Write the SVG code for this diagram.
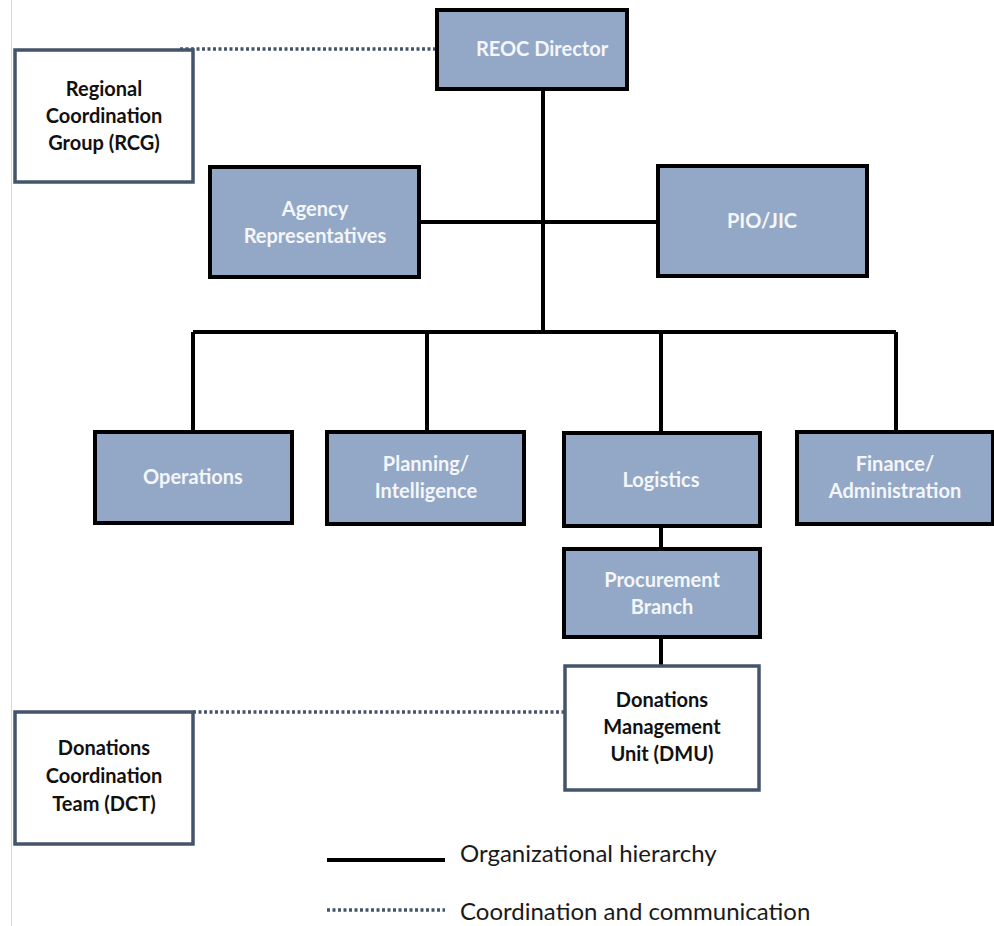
<svg xmlns="http://www.w3.org/2000/svg" width="994" height="926" viewBox="0 0 994 926">
<style>
.b{fill:#93a8c6;stroke:#000;stroke-width:4}
.w{fill:#fff;stroke:#44546a;stroke-width:3.5}
.t{font-family:Lato,"Open Sans",sans-serif;font-weight:bold;font-size:20px;fill:#f4f6fa;text-anchor:middle}
.k{font-family:Lato,"Open Sans",sans-serif;font-weight:bold;font-size:20px;fill:#111;text-anchor:middle}
.s{stroke:#000;stroke-width:4;fill:none}
.d{stroke:#44546a;stroke-width:3.5;stroke-dasharray:3 2.5;fill:none}
.l{font-family:Lato,"Open Sans",sans-serif;font-size:24px;fill:#1a1a1a}
</style>
<rect width="994" height="926" fill="#fff"/>
<line x1="11.5" y1="0" x2="11.5" y2="926" stroke="#d9d9d9" stroke-width="1"/>
<g id="connectors">
<path class="s" d="M543 89V332M420 222H658M193 332H896M193 332V432M427 332V432M661 332V433M896 332V432M661 526V549M661 637V665"/>
<path class="d" d="M180 49H437M193 712H564"/>
</g>
<g id="reoc"><rect class="b" x="437" y="10" width="190" height="79"/><text class="t" x="542" y="56">REOC Director</text></g>
<g id="rcg"><rect class="w" x="15" y="50" width="178" height="132"/><text class="k" x="104" y="96">Regional</text><text class="k" x="104" y="123">Coordination</text><text class="k" x="104" y="150">Group (RCG)</text></g>
<g id="agency"><rect class="b" x="210" y="167" width="209" height="110"/><text class="t" x="315" y="216">Agency</text><text class="t" x="315" y="243">Representatives</text></g>
<g id="pio"><rect class="b" x="658" y="166" width="209" height="110"/><text class="t" x="762" y="228">PIO/JIC</text></g>
<g id="ops"><rect class="b" x="95" y="432" width="197" height="91"/><text class="t" x="193" y="484">Operations</text></g>
<g id="plan"><rect class="b" x="327" y="432" width="197" height="92"/><text class="t" x="426" y="471">Planning/</text><text class="t" x="426" y="498">Intelligence</text></g>
<g id="log"><rect class="b" x="564" y="433" width="196" height="93"/><text class="t" x="661" y="487">Logistics</text></g>
<g id="fin"><rect class="b" x="797" y="432" width="196" height="92"/><text class="t" x="895" y="471">Finance/</text><text class="t" x="895" y="498">Administration</text></g>
<g id="proc"><rect class="b" x="564" y="549" width="196" height="88"/><text class="t" x="662" y="587">Procurement</text><text class="t" x="662" y="614">Branch</text></g>
<g id="dmu"><rect class="w" x="565" y="666" width="194" height="124"/><text class="k" x="662" y="707">Donations</text><text class="k" x="662" y="734">Management</text><text class="k" x="662" y="761">Unit (DMU)</text></g>
<g id="dct"><rect class="w" x="15" y="712" width="178" height="132"/><text class="k" x="104" y="755">Donations</text><text class="k" x="104" y="783">Coordination</text><text class="k" x="104" y="811">Team (DCT)</text></g>
<g id="legend">
<line class="s" x1="327" y1="860" x2="445" y2="860"/>
<line class="d" x1="327" y1="910" x2="445" y2="910"/>
<text class="l" x="460" y="862">Organizational hierarchy</text>
<text class="l" x="460" y="920">Coordination and communication</text>
</g>
</svg>
